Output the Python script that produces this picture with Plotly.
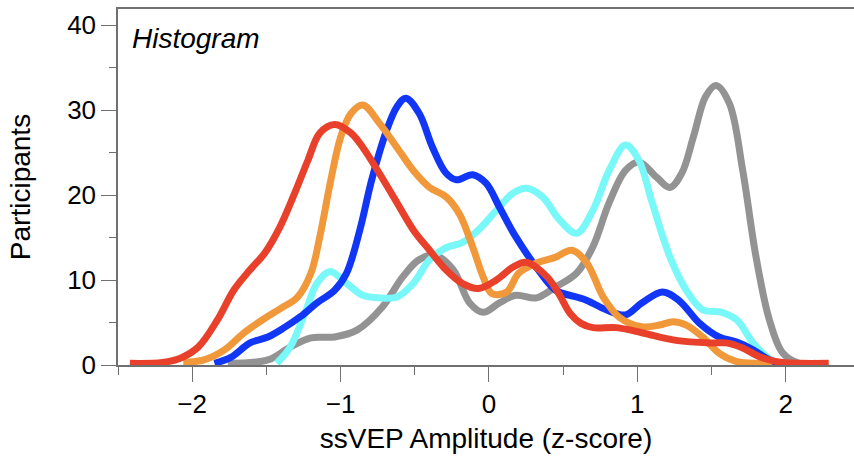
import plotly.graph_objects as go

# ---- data ----
red_x = [-2.42, -2.2, -2.08, -1.96, -1.83, -1.72, -1.61, -1.51, -1.41, -1.31, -1.22, -1.14, -1.04, -0.93,
         -0.85, -0.74, -0.62, -0.51, -0.40, -0.29, -0.18, -0.07, 0.05, 0.16, 0.25, 0.39, 0.47, 0.55, 0.62,
         0.70, 0.86, 1.03, 1.26, 1.49, 1.60, 1.71, 1.82, 1.94, 2.1, 2.29]
red_y = [0.2, 0.3, 0.8, 2.1, 5.3, 8.8, 11.2, 13.2, 16.2, 20.2, 24.1, 27.3, 28.3, 27.3,
         25.6, 22.6, 19.1, 15.9, 13.5, 11.2, 9.6, 9.0, 10.0, 11.5, 12.1, 10.4, 8.4, 6.0, 4.9,
         4.4, 4.4, 3.8, 2.9, 2.6, 2.6, 2.0, 1.0, 0.4, 0.2, 0.2]

orange_x = [-2.06, -1.92, -1.78, -1.65, -1.51, -1.40, -1.29, -1.20, -1.14, -1.07, -1.00, -0.93, -0.85,
            -0.74, -0.62, -0.51, -0.40, -0.29, -0.20, -0.11, -0.04, 0.02, 0.12, 0.20, 0.32, 0.45, 0.56,
            0.66, 0.77, 0.88, 1.03, 1.15, 1.24, 1.33, 1.44, 1.55, 1.67, 1.82, 1.91]
orange_y = [0.3, 0.6, 1.8, 3.8, 5.5, 6.7, 8.0, 10.8, 15.1, 21.4, 26.8, 29.6, 30.6,
            28.5, 25.6, 22.9, 20.9, 19.8, 17.8, 13.9, 10.4, 8.4, 8.6, 10.8, 12.0, 12.7, 13.5,
            12.0, 8.0, 5.6, 4.5, 4.7, 5.1, 4.7, 3.3, 1.4, 0.4, 0.2, 0.2]

blue_x = [-1.85, -1.74, -1.61, -1.49, -1.38, -1.27, -1.16, -1.04, -0.96, -0.87, -0.79, -0.69, -0.62,
          -0.56, -0.47, -0.38, -0.29, -0.22, -0.11, -0.02, 0.07, 0.18, 0.32, 0.45, 0.59, 0.66, 0.79,
          0.92, 1.03, 1.17, 1.28, 1.42, 1.55, 1.67, 1.78, 1.87, 1.94]
blue_y = [0.2, 0.9, 2.6, 3.3, 4.4, 5.7, 7.3, 8.8, 10.8, 15.9, 21.8, 27.6, 30.4,
          31.4, 29.6, 25.6, 22.6, 21.8, 22.4, 21.4, 18.6, 15.1, 11.5, 8.8, 8.0, 7.6, 6.5,
          5.9, 7.3, 8.6, 7.6, 4.9, 3.3, 2.7, 1.8, 0.8, 0.2]

cyan_x = [-1.43, -1.34, -1.24, -1.16, -1.07, -0.96, -0.85, -0.74, -0.62, -0.51, -0.40, -0.29, -0.18,
          -0.07, 0.05, 0.16, 0.25, 0.36, 0.47, 0.59, 0.70, 0.81, 0.92, 1.01, 1.10, 1.22, 1.33, 1.44,
          1.57, 1.67, 1.78, 1.87, 1.94]
cyan_y = [0.2, 2.1, 6.1, 9.6, 11.0, 9.6, 8.2, 7.9, 8.0, 9.6, 12.4, 13.8, 14.4,
          15.9, 18.2, 20.2, 20.8, 19.8, 17.2, 15.5, 18.2, 22.9, 25.9, 24.1, 19.1, 12.7, 8.8, 6.5,
          6.2, 5.3, 2.6, 1.0, 0.2]

gray_x = [-1.76, -1.49, -1.34, -1.20, -1.04, -0.89, -0.72, -0.58, -0.47, -0.36, -0.24, -0.13, -0.04,
          0.07, 0.18, 0.32, 0.45, 0.59, 0.70, 0.81, 0.92, 1.01, 1.13, 1.22, 1.30, 1.38, 1.46, 1.53, 1.62,
          1.71, 1.80, 1.89, 1.98, 2.09, 2.2]
gray_y = [0.2, 0.6, 2.1, 3.2, 3.3, 4.1, 6.8, 10.4, 12.4, 12.9, 11.2, 7.3, 6.2,
          7.3, 8.2, 7.9, 9.2, 10.8, 13.9, 19.1, 22.9, 23.9, 22.1, 20.9, 22.6, 27.0, 31.6, 32.9, 30.8,
          22.9, 12.7, 5.3, 1.4, 0.2, 0.2]

series = [
    ("gray", gray_x, gray_y, "#939393"),
    ("cyan", cyan_x, cyan_y, "#78F8F8"),
    ("blue", blue_x, blue_y, "#1236F5"),
    ("orange", orange_x, orange_y, "#F0983A"),
    ("red", red_x, red_y, "#E8402A"),
]

fig = go.Figure()
for name, xs, ys, col in series:
    fig.add_trace(go.Scatter(x=xs, y=ys, mode="lines", name=name,
                             line=dict(color=col, width=7, shape="spline", smoothing=1.0),
                             hoverinfo="skip"))

FONT = "Liberation Sans, Arial, Helvetica, sans-serif"
AXC = "#707070"

fig.update_layout(
    width=854, height=456,
    margin=dict(l=118, r=0, t=9, b=91),
    paper_bgcolor="white", plot_bgcolor="white",
    showlegend=False,
    font=dict(family=FONT, color="black"),
    xaxis=dict(
        range=[-2.5, 2.46], showgrid=False, zeroline=False,
        showline=True, linecolor=AXC, linewidth=1.5, mirror=True,
        ticks="outside", ticklen=15, tickcolor=AXC, tickwidth=1.2,
        tick0=0, dtick=1, tickfont=dict(size=26, family=FONT, color="black"),
        minor=dict(dtick=0.5, tick0=0, ticks="outside", ticklen=8, tickcolor=AXC, tickwidth=1.2, showgrid=False),
        title=dict(text="ssVEP Amplitude (z-score)", font=dict(size=28, family=FONT, color="black"), standoff=10),
        automargin=False,
    ),
    yaxis=dict(
        range=[0, 41.9], showgrid=False, zeroline=False,
        showline=True, linecolor=AXC, linewidth=1.5,
        ticks="outside", ticklen=15, tickcolor=AXC, tickwidth=1.2,
        tick0=0, dtick=10, tickfont=dict(size=26, family=FONT, color="black"),
        minor=dict(dtick=5, tick0=0, ticks="outside", ticklen=7, tickcolor=AXC, tickwidth=1.2, showgrid=False),
        title=dict(text="Participants", font=dict(size=28, family=FONT, color="black"), standoff=28),
        automargin=False,
    ),
    annotations=[dict(
        text="<i>Histogram</i>", xref="paper", yref="paper", x=0.016, y=0.965,
        xanchor="left", yanchor="top", showarrow=False,
        font=dict(size=28, family=FONT, color="black"),
    )],
)

fig.write_html("out.html", config={"displayModeBar": False},
               post_script="document.body.style.margin='0';document.body.style.padding='0';")
